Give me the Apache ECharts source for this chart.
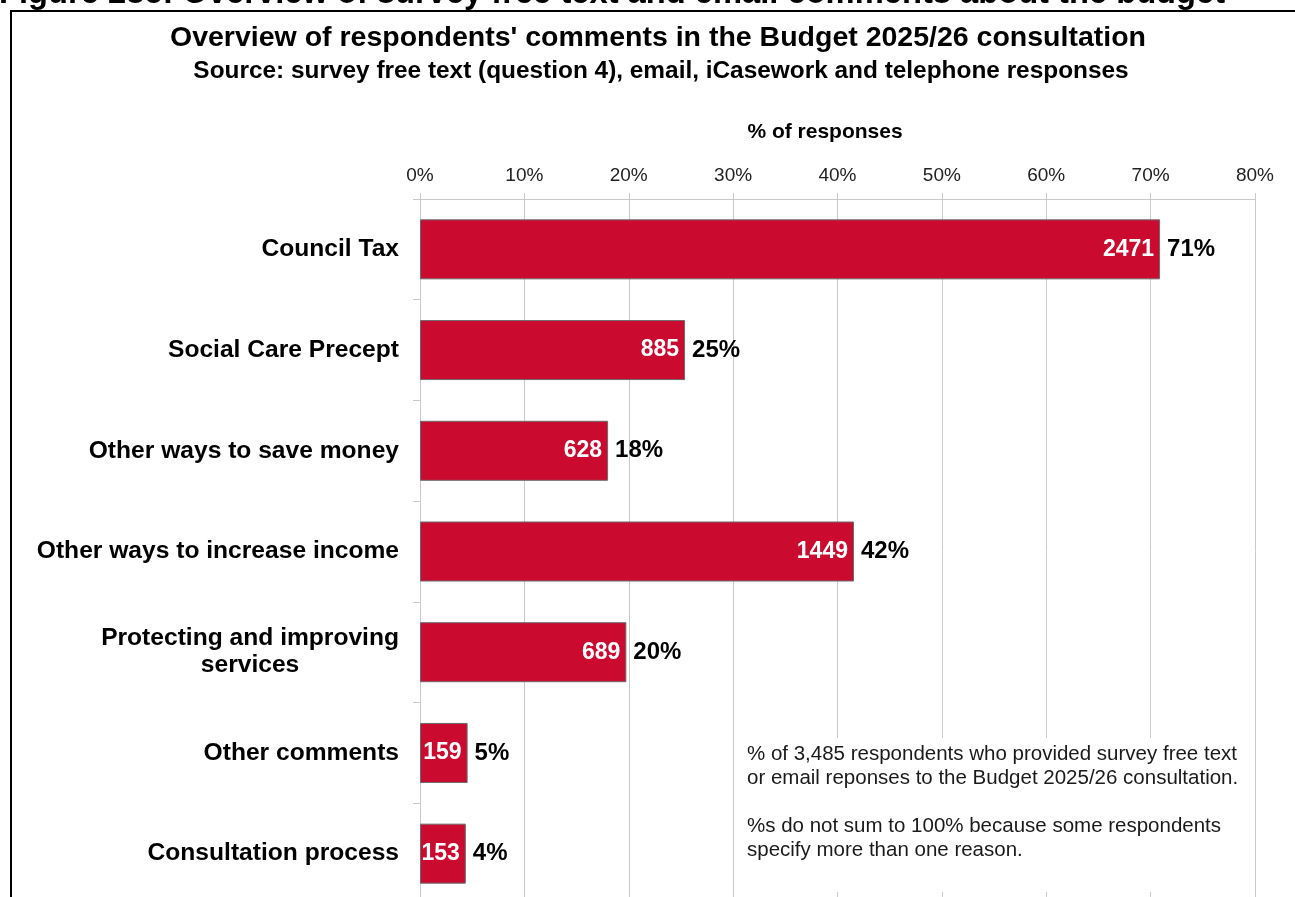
<!DOCTYPE html>
<html>
<head>
<meta charset="utf-8">
<title>Budget 2025/26 consultation comments</title>
<script src="https://cdn.jsdelivr.net/npm/echarts@6/dist/echarts.min.js"></script>
<style>
  html, body { margin: 0; padding: 0; background: #ffffff; overflow: hidden; }
  /* the plot runs a few pixels past the bottom of the page */
  #chart { width: 1295px; height: 912px; }
</style>
</head>
<body>
<div id="chart"></div>
<script>
// Comment themes and number of respondents mentioning each
const categories = [
  'Council Tax',
  'Social Care Precept',
  'Other ways to save money',
  'Other ways to increase income',
  'Protecting and improving\nservices',
  'Other comments',
  'Consultation process'
];
const counts = [2471, 885, 628, 1449, 689, 159, 153];
const totalRespondents = 3485;
const xTicks = [0, 10, 20, 30, 40, 50, 60, 70, 80];

// Share of respondents (%) for each theme
const shares = counts.map(c => c / totalRespondents * 100);

const FONT = '"Liberation Sans", Arial, sans-serif';
const BAR_RED = '#CB0A30';
const GRID_GREY = '#c9c9c9';

const chart = echarts.init(document.getElementById('chart'), null, { renderer: 'canvas' });

chart.setOption({
  animation: false,
  backgroundColor: '#ffffff',
  textStyle: { fontFamily: FONT },
  grid: { left: 420, top: 199, width: 835, height: 705, containLabel: false },
  xAxis: {
    type: 'value',
    position: 'top',
    min: xTicks[0],
    max: xTicks[xTicks.length - 1],
    interval: xTicks[1] - xTicks[0],
    axisLine: { show: true, lineStyle: { color: GRID_GREY, width: 1 } },
    axisTick: { show: true, length: 6, lineStyle: { color: GRID_GREY } },
    splitLine: { show: true, lineStyle: { color: GRID_GREY, width: 1 } },
    axisLabel: {
      formatter: '{value}%',
      fontFamily: FONT,
      fontSize: 19,
      color: '#222222',
      margin: 14
    }
  },
  yAxis: {
    type: 'category',
    inverse: true,
    data: categories,
    axisLine: { show: true, lineStyle: { color: GRID_GREY, width: 1 } },
    axisTick: { show: true, length: 7, lineStyle: { color: GRID_GREY } },
    splitLine: { show: false },
    axisLabel: {
      fontFamily: FONT,
      margin: 21,
      align: 'right',
      formatter: v => v.split('\n').map(s => '{c|' + s + '}').join('\n'),
      rich: {
        c: {
          fontFamily: FONT,
          fontSize: 24.6,
          fontWeight: 'bold',
          color: '#000000',
          align: 'center',
          lineHeight: 27
        }
      }
    }
  },
  series: [
    {
      name: 'Respondents',
      type: 'bar',
      data: shares,
      barWidth: 60,
      itemStyle: { color: BAR_RED, borderColor: '#6b6b6b', borderWidth: 1 },
      label: {
        show: true,
        position: 'insideRight',
        distance: 6,
        formatter: p => String(counts[p.dataIndex]),
        fontFamily: FONT,
        fontSize: 23,
        fontWeight: 'bold',
        color: '#ffffff'
      },
      z: 2
    },
    {
      name: 'Share',
      type: 'bar',
      data: shares,
      barWidth: 60,
      barGap: '-100%',
      silent: true,
      itemStyle: { color: 'rgba(0,0,0,0)', borderWidth: 0 },
      label: {
        show: true,
        position: 'right',
        distance: 7,
        formatter: p => Math.round(p.value) + '%',
        fontFamily: FONT,
        fontSize: 24,
        fontWeight: 'bold',
        color: '#000000'
      },
      z: 3
    }
  ],
  graphic: [
    {
      type: 'text',
      x: -1,
      y: -6,
      style: {
        text: 'Figure 28c: Overview of survey free text and email comments about the budget',
        fontFamily: FONT,
        fontSize: 32.7,
        fontWeight: 'bold',
        fill: '#000000',
        align: 'left',
        verticalAlign: 'middle'
      }
    },
    {
      type: 'rect',
      shape: { x: 11, y: 11, width: 1400, height: 1000 },
      style: { fill: 'none', stroke: '#000000', lineWidth: 2 }
    },
    {
      type: 'text',
      x: 658,
      y: 38,
      style: {
        text: "Overview of respondents' comments in the Budget 2025/26 consultation",
        fontFamily: FONT,
        fontSize: 28.5,
        fontWeight: 'bold',
        fill: '#000000',
        align: 'center',
        verticalAlign: 'middle'
      }
    },
    {
      type: 'text',
      x: 661,
      y: 71,
      style: {
        text: 'Source: survey free text (question 4), email, iCasework and telephone responses',
        fontFamily: FONT,
        fontSize: 24.4,
        fontWeight: 'bold',
        fill: '#000000',
        align: 'center',
        verticalAlign: 'middle'
      }
    },
    {
      type: 'text',
      x: 825,
      y: 132,
      style: {
        text: '% of responses',
        fontFamily: FONT,
        fontSize: 21,
        fontWeight: 'bold',
        fill: '#000000',
        align: 'center',
        verticalAlign: 'middle'
      }
    },
    // white note box sitting over the gridlines
    {
      type: 'rect',
      z: 10,
      shape: { x: 738, y: 738, width: 513, height: 154 },
      style: { fill: '#ffffff', stroke: 'none' }
    },
    {
      type: 'text',
      z: 11,
      x: 747,
      y: 742,
      style: {
        text: '% of 3,485 respondents who provided survey free text\nor email reponses to the Budget 2025/26 consultation.\n\n%s do not sum to 100% because some respondents\nspecify more than one reason.',
        fontFamily: FONT,
        fontSize: 20.5,
        lineHeight: 24,
        fill: '#1a1a1a',
        align: 'left',
        verticalAlign: 'top'
      }
    }
  ]
});
</script>
</body>
</html>
